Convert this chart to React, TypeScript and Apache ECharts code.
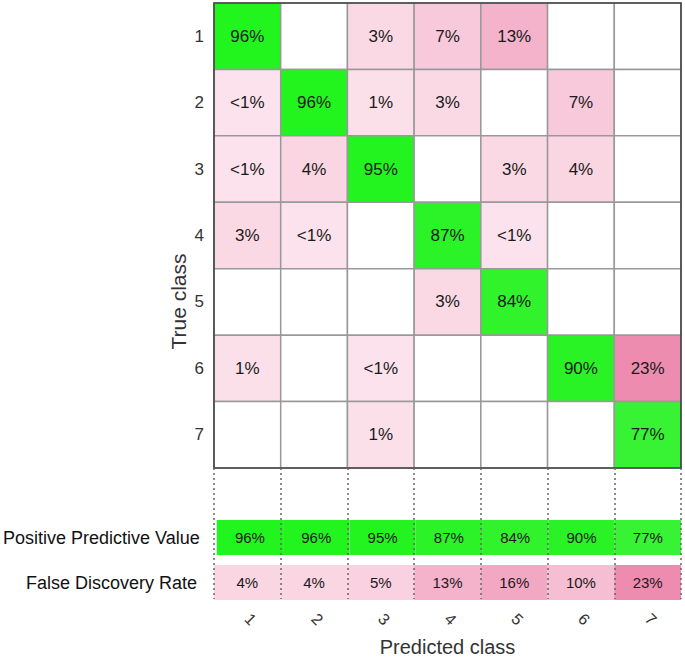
import React, { useEffect, useRef } from "react";
import * as echarts from "echarts";

const classes = ["1", "2", "3", "4", "5", "6", "7"];
// rows = true class, cols = predicted class; null = empty cell, 0.5 stands for "<1%"
const matrixValues: (number | null)[][] = [
  [96, null, 3, 7, 13, null, null],
  [0.5, 96, 1, 3, null, 7, null],
  [0.5, 4, 95, null, 3, 4, null],
  [3, 0.5, null, 87, 0.5, null, null],
  [null, null, null, 3, 84, null, null],
  [1, null, 0.5, null, null, 90, 23],
  [null, null, 1, null, null, null, 77],
];
const ppvValues = [96, 96, 95, 87, 84, 90, 77];
const fdrValues = [4, 4, 5, 13, 16, 10, 23];
const rowNames = ["Positive Predictive Value", "False Discovery Rate"];

const FONT = "Liberation Sans, Arial, sans-serif";

function mix(a: number[], b: number[], t: number) {
  const c = a.map((v, i) => Math.round(v + (b[i] - v) * Math.max(0, Math.min(1, t))));
  return `rgb(${c[0]},${c[1]},${c[2]})`;
}
function pink(v: number) {
  return mix([252, 228, 237], [238, 140, 176], v / 23);
}
function green(v: number) {
  return mix([56, 242, 52], [34, 244, 30], (v - 77) / 19);
}
function fmt(v: number | null) {
  if (v === null) return "";
  if (v < 1) return "<1%";
  return `${v}%`;
}

function makeRender(fontSize: number, stroke: string | null) {
  return (params: any, api: any) => {
    const c = api.value(0);
    const r = api.value(1);
    const center = api.coord([c, r]);
    const size = api.size([1, 1]);
    return {
      type: "group",
      children: [
        {
          type: "rect",
          shape: { x: center[0] - size[0] / 2, y: center[1] - size[1] / 2, width: size[0], height: size[1] },
          style: { fill: api.value(4), stroke: stroke || undefined, lineWidth: stroke ? 1.5 : 0 },
        },
        {
          type: "text",
          x: center[0],
          y: center[1],
          style: { text: api.value(3), fill: "#1a1a1a", font: `${fontSize}px ${FONT}`, align: "center", verticalAlign: "middle" },
        },
      ],
    };
  };
}

function renderFrame(params: any, api: any) {
  const p0 = api.coord([api.value(0), api.value(1)]);
  const p1 = api.coord([api.value(2), api.value(3)]);
  const size = api.size([1, 1]);
  const x0 = Math.min(p0[0], p1[0]) - size[0] / 2;
  const y0 = Math.min(p0[1], p1[1]) - size[1] / 2;
  const x1 = Math.max(p0[0], p1[0]) + size[0] / 2;
  const y1 = Math.max(p0[1], p1[1]) + size[1] / 2;
  return {
    type: "rect",
    shape: { x: x0, y: y0, width: x1 - x0, height: y1 - y0 },
    style: { fill: "none", stroke: "#444", lineWidth: 1.6 },
  };
}

export default function App() {
  const ref = useRef<HTMLDivElement>(null);
  useEffect(() => {
    if (!ref.current) return;
    const chart = echarts.init(ref.current, null, { renderer: "svg" });
    const cells: any[] = [];
    matrixValues.forEach((row, r) => {
      row.forEach((v, c) => {
        cells.push([c, r, v === null ? 0 : v, fmt(v), v === null ? "#ffffff" : r === c ? green(v) : pink(v)]);
      });
    });
    const ppvCells = ppvValues.map((v, c) => [c, 0, v, `${v}%`, green(v)]);
    const fdrCells = fdrValues.map((v, c) => [c, 0, v, `${v}%`, pink(v)]);
    const L = 214, W = 467;
    const dims = ["x", "y", "v", { name: "label", type: "ordinal" }, { name: "color", type: "ordinal" }];
    chart.setOption({
      animation: false,
      textStyle: { fontFamily: FONT },
      grid: [
        { left: L, top: 3, width: W, height: 465 },
        { left: L, top: 468, width: W, height: 132 },
        { left: L, top: 520, width: W, height: 35 },
        { left: L, top: 565, width: W, height: 35 },
        { left: L, top: 3, width: W, height: 597 },
      ],
      xAxis: [
        { type: "category", gridIndex: 0, data: classes, axisLine: { show: false }, axisTick: { show: false }, axisLabel: { show: false }, splitLine: { show: false } },
        {
          type: "category", gridIndex: 1, data: classes, z: 10,
          axisLine: { show: false }, axisTick: { show: false },
          axisLabel: { show: true, rotate: -45, margin: 17, fontSize: 16, color: "#333", fontFamily: FONT },
          splitLine: { show: true, lineStyle: { type: [2, 3], color: "#666", width: 1.5 } },
          name: "Predicted class", nameLocation: "middle", nameGap: 38, nameMoveOverlap: false,
          nameTextStyle: { fontSize: 20, color: "#333", fontFamily: FONT },
        },
        { type: "category", gridIndex: 2, data: classes, show: false },
        { type: "category", gridIndex: 3, data: classes, show: false },
        { type: "category", gridIndex: 4, data: classes, show: false },
      ],
      yAxis: [
        {
          type: "category", gridIndex: 0, data: classes, inverse: true,
          axisLine: { show: false }, axisTick: { show: false },
          axisLabel: { fontSize: 17, color: "#333", margin: 10, fontFamily: FONT },
        },
        { type: "category", gridIndex: 1, data: [""], show: false },
        { type: "category", gridIndex: 2, data: [rowNames[0]], axisLine: { show: false }, axisTick: { show: false }, axisLabel: { fontSize: 18, color: "#111", margin: 17, fontFamily: FONT } },
        { type: "category", gridIndex: 3, data: [rowNames[1]], axisLine: { show: false }, axisTick: { show: false }, axisLabel: { fontSize: 18, color: "#111", margin: 17, fontFamily: FONT } },
        {
          type: "category", gridIndex: 4, data: [""],
          axisLine: { show: false }, axisTick: { show: false }, axisLabel: { show: false }, splitLine: { show: false },
          name: "True class", nameLocation: "middle", nameGap: 25, nameRotate: 90, nameMoveOverlap: false,
          nameTextStyle: { fontSize: 21, color: "#333", fontFamily: FONT },
        },
      ],
      series: [
        { type: "custom", xAxisIndex: 0, yAxisIndex: 0, data: cells, dimensions: dims, encode: { x: 0, y: 1 }, renderItem: makeRender(17, "#999") },
        { type: "custom", xAxisIndex: 0, yAxisIndex: 0, z: 5, data: [[0, 0, classes.length - 1, classes.length - 1]], encode: { x: [0, 2], y: [1, 3] }, renderItem: renderFrame, silent: true },
        { type: "custom", xAxisIndex: 2, yAxisIndex: 2, data: ppvCells, dimensions: dims, encode: { x: 0, y: 1 }, renderItem: makeRender(15, null) },
        { type: "custom", xAxisIndex: 3, yAxisIndex: 3, data: fdrCells, dimensions: dims, encode: { x: 0, y: 1 }, renderItem: makeRender(15, null) },
      ],
    });
    return () => chart.dispose();
  }, []);
  return <div ref={ref} style={{ position: "absolute", left: 0, top: 0, width: 685, height: 658 }} />;
}
